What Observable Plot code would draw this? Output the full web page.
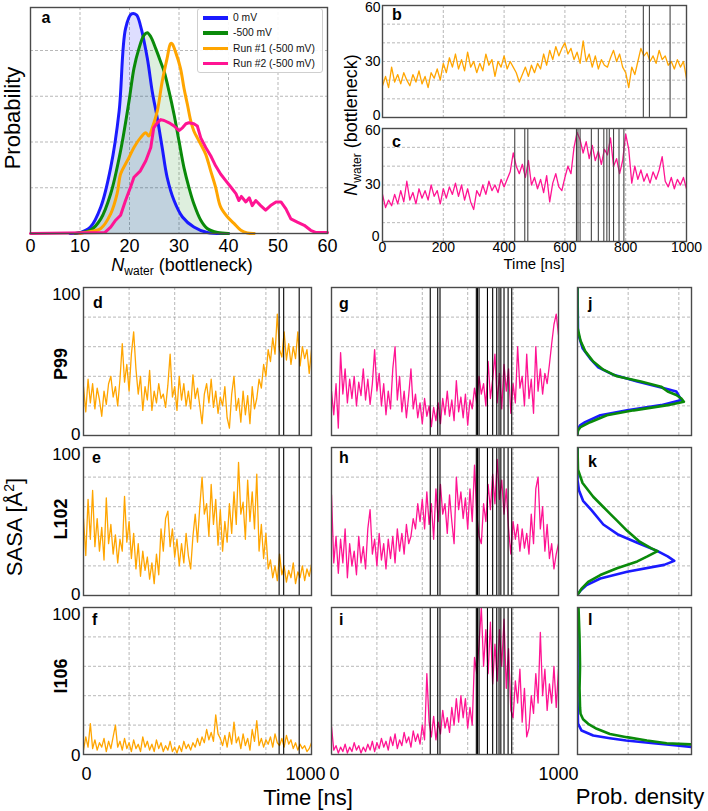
<!DOCTYPE html>
<html>
<head>
<meta charset="utf-8">
<script src="https://cdn.jsdelivr.net/npm/d3@7"></script>
<script src="https://cdn.jsdelivr.net/npm/@observablehq/plot@0.6"></script>
<style>
  html, body { margin: 0; padding: 0; background: #fff; }
  #root { position: relative; width: 708px; height: 811px; overflow: hidden; background: #fff; font-family: 'Liberation Sans', Arial, Helvetica, sans-serif; }
</style>
</head>
<body>
<div id="root"></div>
<script>
// ---------------- DATA ----------------
// Panel a: distributions of N_water (bottleneck) -> [N, probability (grid units)]
const distZeroMV = [[8,0],[10,0.02],[12.1,0.14],[14.2,0.58],[16.2,1.44],[17.9,2.67],[19.2,4.48],[20.4,4.8],[21.4,4.78],[22.2,4.55],[23.6,3.83],[24.6,3.1],[25.6,2.53],[26.6,1.88],[27.6,1.23],[29,0.72],[30.7,0.36],[33,0.14],[35.7,0.02],[40,0]];
const distMinus500 = [[9,0],[10.1,0.02],[12.1,0.07],[14.2,0.32],[16.2,0.87],[18.2,1.81],[19.9,2.89],[20.9,3.61],[21.9,4.04],[22.9,4.33],[23.6,4.39],[24.3,4.3],[25.3,4.04],[26.3,3.75],[27,3.54],[28,3.1],[29,2.6],[30,2.02],[31,1.44],[32,1.01],[33,0.65],[34.4,0.29],[35.7,0.11],[37.8,0.02],[40,0]];
const distRun1 = [[10,0],[10.8,0.02],[14.2,0.11],[16.2,0.43],[17.5,0.87],[18.2,1.3],[19.2,1.52],[19.9,1.66],[20.9,1.88],[22.2,2.09],[23.3,2.2],[23.9,2.13],[24.6,2.31],[25.6,2.67],[26.6,3.32],[27.6,3.83],[28.3,4.15],[28.6,4.15],[29.3,3.97],[30.3,3.61],[31,3.18],[31.7,2.82],[32.4,2.45],[33,2.24],[33.7,2.09],[34.4,1.95],[35.4,1.73],[36.4,1.37],[37.4,1.01],[38.4,0.58],[39.8,0.36],[41.1,0.22],[42.5,0.07],[43.8,0.01],[45.2,0]];
const distRun2 = [[0,0],[15,0.02],[16.2,0.14],[17.2,0.29],[18.2,0.4],[19.2,0.72],[20.2,1.01],[20.9,1.23],[22.2,1.37],[23.3,1.59],[24.3,1.88],[24.9,2.31],[25.6,2.42],[26.3,2.49],[27,2.47],[28,2.42],[29,2.35],[30,2.25],[30.7,2.31],[31.4,2.4],[32,2.42],[33,2.4],[33.7,2.35],[34.4,2.09],[35.4,1.88],[36.4,1.7],[37.4,1.48],[38.4,1.3],[39.4,1.16],[40.5,1.01],[41.5,0.87],[42.1,0.72],[42.6,0.81],[43.5,0.69],[44.2,0.78],[44.8,0.61],[45.5,0.72],[46.5,0.61],[47.5,0.51],[48.5,0.61],[49.6,0.69],[50.6,0.69],[51.6,0.54],[52.6,0.32],[53.9,0.25],[55.3,0.18],[56.6,0.07],[57.7,0.02],[60,0.02]];
const legendLabels = ["0 mV", "-500 mV", "Run #1 (-500 mV)", "Run #2 (-500 mV)"];

// Time series sampled every 10 ns, 0..1000 ns
const timeStep = 10;
const nwaterRun1 = [17,22,16,27,19,23,18,24,20,17, 23,19,25,18,22,16,24,21,26,20, 29,24,32,27,34,26,31,25,35,27, 30,24,29,25,34,28,31,22,30,27, 33,26,30,27,24,19,23,27,22,28, 24,29,26,34,28,36,31,38,33,37, 40,34,37,31,35,29,41,30,34,27, 33,26,31,28,27,32,36,30,34,27, 24,16,27,23,30,37,33,35,30,33, 29,36,31,33,28,30,26,31,27,30, 21];
const nwaterRun2 = [25,18,22,19,25,20,27,21,32,22, 26,20,28,23,27,22,30,24,27,20, 28,23,29,25,31,24,30,22,28,21, 17,27,24,30,25,32,27,30,26,33, 29,33,37,47,40,36,41,34,43,30, 34,28,33,26,35,21,31,36,29,27, 34,40,36,50,58,54,47,53,44,51, 43,48,41,49,46,55,40,44,36,43, 57,49,31,40,33,38,32,36,31,37, 33,38,45,32,29,34,28,33,30,34, 28];
const sasaP99Run1 = [33,16,38,22,35,18,32,24,13,30, 21,35,40,26,33,20,38,62,36,48, 30,55,70,45,28,40,17,33,24,44, 17,30,22,35,25,28,19,34,55,26, 33,17,40,24,35,20,30,18,41,25, 32,20,8,28,35,22,38,19,30,15, 26,20,33,12,5,28,40,17,25,9, 30,14,27,8,33,18,25,38,32,48, 40,58,50,66,55,82,58,53,70,51, 62,48,60,52,70,47,60,52,58,42, 58];
const sasaL102Run1 = [52,27,65,38,71,33,52,30,46,24, 66,35,48,28,41,22,38,30,67,36, 50,25,42,18,35,13,30,17,26,11, 22,8,28,14,45,30,52,57,33,45, 26,38,20,35,22,42,27,18,40,55, 36,60,80,55,62,40,75,48,65,34, 58,30,50,36,62,42,70,48,90,55, 63,38,78,50,70,45,82,30,48,25, 42,18,24,12,20,10,28,14,20,9, 17,12,22,8,16,12,20,10,18,13, 21];
const sasaI106Run1 = [3,12,5,21,4,10,3,8,5,11, 2,9,4,12,20,5,9,3,11,4, 8,2,10,4,7,2,12,5,9,3, 7,2,10,4,8,2,6,3,9,2, 5,1,6,2,9,4,7,3,8,5, 11,6,12,8,17,10,15,9,27,14, 11,6,13,5,15,7,22,8,12,4, 14,6,11,3,17,9,23,6,11,5, 10,7,12,5,14,8,6,11,5,13, 7,10,4,8,3,7,4,6,2,4, 8];
const sasaP99Run2 = [30,14,35,5,56,28,45,22,38,25, 40,20,36,27,45,24,38,21,35,58, 30,42,20,35,14,30,18,45,60,24, 40,16,30,12,27,45,18,28,12,22, 8,25,13,20,6,19,10,22,8,25, 14,30,13,24,10,37,16,26,12,28, 7,24,18,32,22,40,28,35,20,50, 25,38,55,22,42,18,48,30,45,15, 35,22,60,32,40,20,55,25,38,15, 60,30,45,28,42,35,48,62,75,82, 68];
const sasaL102Run2 = [68,22,40,15,38,22,45,12,35,20, 30,14,40,22,33,18,45,58,28,38, 20,42,24,35,18,38,25,40,22,45, 30,42,28,48,35,40,52,45,62,50, 65,45,70,48,62,38,72,50,75,55, 62,42,68,50,35,80,58,70,52,66, 45,72,50,88,55,40,35,62,50,75, 58,82,62,92,65,78,55,72,45,28, 50,38,48,30,45,32,42,28,55,35, 72,80,45,60,30,48,25,35,18,28, 35];
const sasaI106Run2 = [19,3,6,1,5,2,7,1,5,2, 8,3,6,1,5,2,7,3,9,2, 8,4,11,5,9,3,12,6,14,4, 10,6,15,8,12,5,16,9,14,7, 20,10,55,22,12,26,10,22,14,30, 18,25,15,32,20,38,22,40,25,38, 18,32,20,66,55,75,100,60,85,55, 90,48,75,50,85,60,92,45,72,30, 25,50,35,58,22,45,12,18,40,28, 55,35,83,40,58,30,48,35,60,32, 58];

// Event times (vertical lines) [ns]
const eventsRun1 = [858, 878, 946];
const eventsRun2 = [435, 468, 478, 638, 643, 650, 687, 710, 728, 738, 746, 760, 778, 794];

// Probability densities of SASA: [SASA, density]
const densP99ZeroMV = [[100,0],[70,0.01],[68,0.02],[59,0.1],[52,0.25],[46,0.41],[41,0.71],[36.5,1.18],[32,1.71],[29.7,1.95],[26.3,2.01],[24,2.05],[20.5,1.65],[17,0.98],[13.7,0.45],[9,0.15],[6.8,0.05],[4.6,0.01],[1,0]];
const densP99Minus500 = [[100,0],[73,0],[64,0.06],[57,0.15],[50,0.31],[44.5,0.51],[40,0.78],[36.5,1.25],[33,1.65],[29.7,1.78],[27.4,1.95],[25,2.05],[22.8,2.1],[20.5,1.78],[17,1.11],[13.7,0.58],[9,0.25],[5.7,0.06],[3.4,0.01],[1,0]];
const densL102ZeroMV = [[100,0],[78,0],[71,0.03],[64,0.11],[57.5,0.28],[48,0.51],[41,0.81],[35.6,1.18],[30,1.58],[26.4,1.78],[23.4,1.91],[20.7,1.71],[16,0.98],[11.5,0.45],[7,0.18],[3.4,0.06],[1,0.01]];
const densL102Minus500 = [[100,0],[85,0.01],[76,0.1],[66.7,0.31],[59.8,0.51],[55,0.65],[50.6,0.78],[43.7,0.98],[36.8,1.21],[32,1.45],[30,1.58],[26.4,1.38],[23,1.18],[18.4,0.78],[13.8,0.45],[9.2,0.21],[4.6,0.08],[1,0.01]];
const densI106ZeroMV = [[100,0],[37,0],[21,0.01],[19.7,0.03],[16.3,0.08],[12.9,0.31],[11.1,0.64],[9.5,0.96],[7.7,1.5],[6.1,1.96],[5,2.3]];
const densI106Minus500 = [[100,0.02],[80,0.04],[60,0.05],[45,0.04],[32,0.05],[27.7,0.06],[24,0.11],[20.9,0.21],[17.5,0.38],[14,0.64],[11.8,0.97],[9.5,1.37],[7.7,1.76],[6.8,2.3]];

// ---------------- STYLE ----------------
const FONT = "'Liberation Sans', Arial, Helvetica, sans-serif";
const C = {blue: "#1a1aff", green: "#0a8a0a", orange: "#ffa500", pink: "#ff1493"};
const legendColors = [C.blue, C.green, C.orange, C.pink];
const gridStyle = {stroke: "#9a9a9a", strokeOpacity: 1, strokeWidth: 0.7, strokeDasharray: "3,2"};
const frameMark = () => Plot.frame({stroke: "#4a4a4a", strokeWidth: 1.4});
const fmt = d3.format("d");
const root = document.getElementById("root");

function panel({frame: [x0, y0, x1, y1], ml = 0, mr = 0, mt = 0, mb = 0, x, y, marks}) {
  const svg = Plot.plot({
    width: x1 - x0 + ml + mr, height: y1 - y0 + mt + mb,
    marginLeft: ml, marginRight: mr, marginTop: mt, marginBottom: mb,
    x, y, marks,
    style: {fontFamily: FONT, overflow: "visible", background: "none", color: "#000"}
  });
  svg.style.position = "absolute";
  svg.style.left = (x0 - ml) + "px";
  svg.style.top = (y0 - mt) + "px";
  root.appendChild(svg);
}
const tx = (d, i) => i * timeStep;
const series = (vals, color) => Plot.line(vals, {x: tx, y: d => d, stroke: color, strokeWidth: 1.3, clip: true});
const yLab = (v, size, dy, pad = 3) => Plot.axisY({ticks: [v], tickSize: 0, tickPadding: pad, fontSize: size, dy, tickFormat: fmt, label: null});
const xLab = (ticks, size, pad, dx = 0) => Plot.axisX({ticks, tickSize: 0, tickPadding: pad, fontSize: size, dx, tickFormat: fmt, label: null});

// ---------------- PANEL a ----------------
const curve = "catmull-rom";
panel({
  frame: [30, 7, 327, 233], mb: 30,
  x: {domain: [0, 60]},
  y: {domain: [0, 4.94], axis: null},
  marks: [
    Plot.gridX({ticks: [10, 20, 30, 40, 50], ...gridStyle}),
    Plot.gridY({ticks: [1, 2, 3, 4], ...gridStyle}),
    Plot.areaY(distZeroMV, {x: d => d[0], y: d => d[1], fill: "#0000ff", fillOpacity: 0.13, curve}),
    Plot.areaY(distMinus500, {x: d => d[0], y: d => d[1], fill: "#008000", fillOpacity: 0.13, curve}),
    Plot.line(distZeroMV, {x: d => d[0], y: d => d[1], stroke: C.blue, strokeWidth: 3, curve}),
    Plot.line(distMinus500, {x: d => d[0], y: d => d[1], stroke: C.green, strokeWidth: 3, curve}),
    Plot.line(distRun1, {x: d => d[0], y: d => d[1], stroke: C.orange, strokeWidth: 3, curve}),
    Plot.line(distRun2, {x: d => d[0], y: d => d[1], stroke: C.pink, strokeWidth: 3}),
    frameMark(),
    xLab(d3.range(0, 61, 10), 18, 6)
  ]
});

// legend for panel a
(function () {
  const lg = document.createElement("div");
  lg.style.cssText = "position:absolute;left:197px;top:8px;width:124px;height:63px;border:1px solid #cfcfcf;border-radius:3px;background:rgba(255,255,255,0.9);font-family:" + FONT + ";font-size:10.3px;";
  legendLabels.forEach((lab, i) => {
    const row = document.createElement("div");
    row.style.cssText = `position:absolute;left:0;top:${1 + i * 15.3}px;height:15px;width:124px;`;
    row.innerHTML = `<span style="position:absolute;left:5px;top:6px;width:25px;height:3.5px;background:${legendColors[i]}"></span>` +
      `<span style="position:absolute;left:35px;top:1px;line-height:13px;white-space:nowrap;color:#111">${lab}</span>`;
    lg.appendChild(row);
  });
  root.appendChild(lg);
})();

// ---------------- PANELS b, c ----------------
panel({
  frame: [382, 5, 686, 117], ml: 30,
  x: {domain: [0, 1000], axis: null},
  y: {domain: [0, 60]},
  marks: [
    Plot.gridX({ticks: [200, 400, 600, 800], ...gridStyle}),
    Plot.gridY({ticks: [10, 20, 30, 40, 50], ...gridStyle}),
    series(nwaterRun1, C.orange),
    Plot.ruleX(eventsRun1, {stroke: "#444", strokeWidth: 1.1}),
    frameMark(),
    yLab(60, 14, 2, 2), yLab(30, 14, 0, 2), yLab(0, 14, -2, 2)
  ]
});
panel({
  frame: [382, 128, 686, 241], ml: 30, mb: 25,
  x: {domain: [0, 1000]},
  y: {domain: [0, 60]},
  marks: [
    Plot.gridX({ticks: [200, 400, 600, 800], ...gridStyle}),
    Plot.gridY({ticks: [10, 20, 30, 40, 50], ...gridStyle}),
    series(nwaterRun2, C.pink),
    Plot.ruleX(eventsRun2, {stroke: "#444", strokeWidth: 1.1}),
    frameMark(),
    yLab(60, 14, 2, 2), yLab(30, 14, 0, 2), yLab(0, 14, -5, 3),
    xLab(d3.range(0, 1001, 200), 14, 1)
  ]
});

// ---------------- PANELS d–l ----------------
const rowsY = [[287, 435], [447, 595], [607, 754]];
const run1Rows = [sasaP99Run1, sasaL102Run1, sasaI106Run1];
const run2Rows = [sasaP99Run2, sasaL102Run2, sasaI106Run2];
const densRows = [[densP99ZeroMV, densP99Minus500], [densL102ZeroMV, densL102Minus500], [densI106ZeroMV, densI106Minus500]];

rowsY.forEach(([ya, yb], r) => {
  const last = r === 2;
  // Run #1 column (d, e, f)
  panel({
    frame: [83, ya, 311, yb], ml: 35, mb: last ? 30 : 0,
    x: last ? {domain: [0, 1000]} : {domain: [0, 1000], axis: null},
    y: {domain: [0, 100]},
    marks: [
      Plot.gridX({ticks: [200, 400, 600, 800], ...gridStyle}),
      Plot.gridY({ticks: [20, 40, 60, 80], ...gridStyle}),
      series(run1Rows[r], C.orange),
      Plot.ruleX(eventsRun1, {stroke: "#000", strokeWidth: 1.1}),
      frameMark(),
      yLab(100, 17, 7), yLab(0, 17, last ? 1 : -1),
      ...(last ? [xLab([0], 18, 13, 3), xLab([1000], 18, 13, -6)] : [])
    ]
  });
  // Run #2 column (g, h, i)
  panel({
    frame: [331, ya, 558, yb], mb: last ? 30 : 0,
    x: last ? {domain: [0, 1000]} : {domain: [0, 1000], axis: null},
    y: {domain: [0, 100], axis: null},
    marks: [
      Plot.gridX({ticks: [200, 400, 600, 800], ...gridStyle}),
      Plot.gridY({ticks: [20, 40, 60, 80], ...gridStyle}),
      series(run2Rows[r], C.pink),
      Plot.ruleX(eventsRun2, {stroke: "#000", strokeWidth: 1.1}),
      frameMark(),
      ...(last ? [xLab([0], 18, 13, 3), xLab([1000], 18, 13, 0)] : [])
    ]
  });
  // Density column (j, k, l)
  const [d0, d1] = densRows[r];
  panel({
    frame: [577, ya, 691, yb],
    x: {domain: [0, 2.25], axis: null},
    y: {domain: [0, 100], axis: null},
    marks: [
      Plot.gridX({ticks: [1, 2], ...gridStyle}),
      Plot.gridY({ticks: [20, 40, 60, 80], ...gridStyle}),
      Plot.line(d0, {x: d => d[1], y: d => d[0], stroke: C.blue, strokeWidth: 2.6, clip: true}),
      Plot.line(d1, {x: d => d[1], y: d => d[0], stroke: C.green, strokeWidth: 2.6, clip: true}),
      frameMark()
    ]
  });
});

// ---------------- TEXT OVERLAY ----------------
const letters = [["a", 41.5, 22.5], ["b", 392, 20], ["c", 392, 147], ["d", 93, 308], ["e", 92, 463], ["f", 92, 625],
  ["g", 339, 309], ["h", 339, 463], ["i", 339, 625], ["j", 588, 309], ["k", 588, 467], ["l", 588, 625]];
const rowLabels = [["P99", 364], ["L102", 519], ["I106", 676]];
const nwLabel = `<tspan font-style="italic">N</tspan><tspan font-size="12" dy="4">water</tspan><tspan dy="-4"> (bottleneck)</tspan>`;
let svgTxt = `<svg xmlns="http://www.w3.org/2000/svg" width="708" height="811" style="position:absolute;left:0;top:0;pointer-events:none;font-family:${FONT}">`;
letters.forEach(([t, x, y]) => { svgTxt += `<text x="${x}" y="${y}" font-size="16" font-weight="bold">${t}</text>`; });
rowLabels.forEach(([t, y]) => { svgTxt += `<text transform="translate(67,${y}) rotate(-90)" text-anchor="middle" font-size="18" font-weight="bold">${t}</text>`; });
svgTxt += `<text transform="translate(20,118) rotate(-90)" text-anchor="middle" font-size="22">Probability</text>`;
svgTxt += `<text x="182" y="271" text-anchor="middle" font-size="18">${nwLabel}</text>`;
svgTxt += `<text transform="translate(357,125) rotate(-90)" text-anchor="middle" font-size="18">${nwLabel}</text>`;
svgTxt += `<text x="534" y="269" text-anchor="middle" font-size="15">Time [ns]</text>`;
svgTxt += `<text transform="translate(22,527) rotate(-90)" text-anchor="middle" font-size="22">SASA [Å<tspan font-size="14" dy="-8">2</tspan><tspan dy="8">]</tspan></text>`;
svgTxt += `<text x="308" y="805" text-anchor="middle" font-size="22">Time [ns]</text>`;
svgTxt += `<text x="640" y="804" text-anchor="middle" font-size="22">Prob. density</text>`;
svgTxt += `</svg>`;
root.insertAdjacentHTML("beforeend", svgTxt);
</script>
</body>
</html>
